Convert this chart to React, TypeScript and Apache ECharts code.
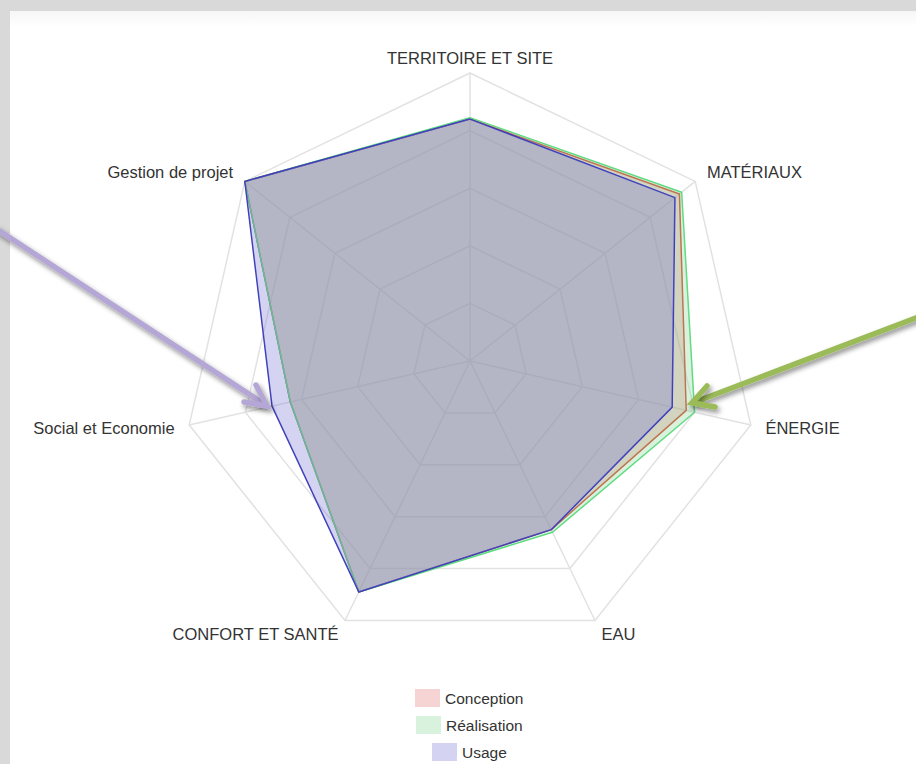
import React, { useEffect, useRef } from "react";
import * as echarts from "echarts";

const INDICATORS = [
  "TERRITOIRE ET SITE",
  "Gestion de projet",
  "Social et Economie",
  "CONFORT ET SANTÉ",
  "EAU",
  "ÉNERGIE",
  "MATÉRIAUX",
];
const MAX_VALUE = 100;
const SERIES_NAMES = ["Conception", "Réalisation", "Usage"];
const CONCEPTION = [84, 100, 64, 89, 65, 77, 93];
const REALISATION = [84.5, 100, 64, 89, 66, 80, 94];
const USAGE = [84, 100, 70.5, 89, 65, 72, 91];

const FONT = "'Liberation Sans', Arial, sans-serif";
const LEGEND_FONT_SIZE = 15.5;

function measure(text: string, size: number): number {
  const c = document.createElement("canvas");
  const ctx = c.getContext("2d");
  if (!ctx) return text.length * size * 0.5;
  ctx.font = `${size}px 'Liberation Sans', Arial, sans-serif`;
  return ctx.measureText(text).width;
}

export default function App() {
  const ref = useRef<HTMLDivElement>(null);

  useEffect(() => {
    if (!ref.current) return;
    const chart = echarts.init(ref.current, null, { renderer: "svg" });

    const lineColors = ["#d9452e", "#5ddc80", "#3a3ab8"];
    const areaColors = ["rgb(228,112,112)", "rgb(127,212,145)", "rgb(112,112,212)"];
    const swatchColors = ["#f7d4d4", "#d9f2de", "#d4d4f2"];
    const values = [CONCEPTION, REALISATION, USAGE];
    const legendTops = [689, 716, 743];
    const legendCenterX = 469.5;

    const legends = SERIES_NAMES.map((name, i) => {
      const w = 25 + 5 + measure(name, LEGEND_FONT_SIZE);
      return {
        show: true,
        selectedMode: false,
        left: Math.round(legendCenterX - w / 2),
        top: legendTops[i],
        padding: 0,
        icon: "rect",
        itemWidth: 25,
        itemHeight: 18,
        textStyle: { fontSize: LEGEND_FONT_SIZE, color: "#333", fontFamily: FONT },
        data: [{ name, itemStyle: { color: swatchColors[i], borderWidth: 0 } }],
      };
    });

    const arrowShadow = {
      shadowBlur: 5,
      shadowColor: "rgba(0,0,0,0.45)",
      shadowOffsetX: 2,
      shadowOffsetY: 3,
    };

    const option: any = {
      animation: false,
      backgroundColor: "#d9d9d9",
      legend: legends,
      graphic: {
        elements: [
          {
            type: "rect",
            z: 0,
            silent: true,
            shape: { x: 10, y: 11, width: 906, height: 753 },
            style: { fill: "#ffffff" },
          },
          {
            type: "rect",
            z: 0,
            silent: true,
            shape: { x: 10, y: 11, width: 906, height: 16 },
            style: {
              fill: new echarts.graphic.LinearGradient(0, 0, 0, 1, [
                { offset: 0, color: "#f6f6f6" },
                { offset: 1, color: "#ffffff" },
              ]),
            },
          },
          {
            type: "polyline",
            z: 100,
            silent: true,
            shape: { points: [[-5, 228], [264, 404]] },
            style: { stroke: "#b4a7d6", lineWidth: 5.5, ...arrowShadow },
          },
          {
            type: "polyline",
            z: 100,
            silent: true,
            shape: { points: [[256, 385], [267, 406], [244, 402]] },
            style: { stroke: "#b4a7d6", lineWidth: 5.5, lineJoin: "miter", lineCap: "round", fill: null, ...arrowShadow },
          },
          {
            type: "polyline",
            z: 100,
            silent: true,
            shape: { points: [[921, 316], [695, 402]] },
            style: { stroke: "#9bbb59", lineWidth: 5.5, ...arrowShadow },
          },
          {
            type: "polyline",
            z: 100,
            silent: true,
            shape: { points: [[707, 386], [692, 403], [715, 407]] },
            style: { stroke: "#9bbb59", lineWidth: 5.5, lineJoin: "miter", lineCap: "round", fill: null, ...arrowShadow },
          },
        ],
      },
      radar: {
        center: [470, 361],
        radius: 288,
        startAngle: 90,
        splitNumber: 5,
        shape: "polygon",
        nameGap: 15,
        indicator: INDICATORS.map((name) => ({ name, max: MAX_VALUE, min: 0 })),
        axisName: {
          color: "#333",
          fontSize: 16.5,
          fontFamily: FONT,
          verticalAlign: "middle",
        },
        splitArea: { show: false },
        splitLine: { lineStyle: { color: "#e2e2e2", width: 1.5 } },
        axisLine: { lineStyle: { color: "#e2e2e2", width: 1.5 } },
        axisTick: { show: false },
        axisLabel: { show: false },
      },
      series: [
        {
          type: "radar",
          symbol: "none",
          silent: true,
          data: SERIES_NAMES.map((name, i) => ({
            name,
            value: values[i],
            itemStyle: { color: lineColors[i] },
            lineStyle: { color: lineColors[i], width: 1.5 },
            areaStyle: { color: areaColors[i], opacity: 0.3 },
          })),
        },
      ],
    };

    chart.setOption(option);
    return () => chart.dispose();
  }, []);

  return (
    <div
      ref={ref}
      style={{ position: "absolute", left: 0, top: 0, width: 916, height: 764 }}
    />
  );
}
